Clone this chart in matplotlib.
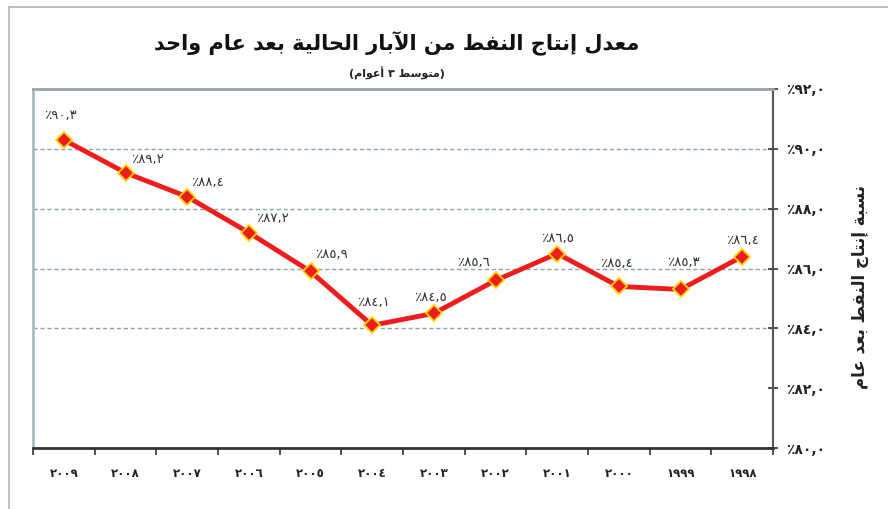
import matplotlib
matplotlib.use("Agg")
import matplotlib.pyplot as plt
from matplotlib.lines import Line2D

years = [2009, 2008, 2007, 2006, 2005, 2004, 2003, 2002, 2001, 2000, 1999, 1998]
values = [90.3, 89.2, 88.4, 87.2, 85.9, 84.1, 84.5, 85.6, 86.5, 85.4, 85.3, 86.4]
y_ticks = [80, 82, 84, 86, 88, 90, 92]

title = "معدل إنتاج النفط من الآبار الحالية بعد عام واحد"
subtitle = "(متوسط ٣ أعوام)"
y_label = "نسبة إنتاج النفط بعد عام"

# label offsets in pixels (dx, dy) for each point
label_offsets = [(-3, 24), (22, 13), (20, 14), (24, 14), (21, 17), (1, 23),
                 (-3, 16), (-22, 18), (0, 15), (-2, 23), (3, 27), (0, 16)]

# minimal arabic shaping (matplotlib has no bidi / joining)
FORMS = {
    '\u0627': (0xFE8D, 0xFE8E, None, None),
    '\u0623': (0xFE83, 0xFE84, None, None),
    '\u0625': (0xFE87, 0xFE88, None, None),
    '\u0622': (0xFE81, 0xFE82, None, None),
    '\u0628': (0xFE8F, 0xFE90, 0xFE91, 0xFE92),
    '\u0629': (0xFE93, 0xFE94, None, None),
    '\u062A': (0xFE95, 0xFE96, 0xFE97, 0xFE98),
    '\u062C': (0xFE9D, 0xFE9E, 0xFE9F, 0xFEA0),
    '\u062D': (0xFEA1, 0xFEA2, 0xFEA3, 0xFEA4),
    '\u062F': (0xFEA9, 0xFEAA, None, None),
    '\u0631': (0xFEAD, 0xFEAE, None, None),
    '\u0633': (0xFEB1, 0xFEB2, 0xFEB3, 0xFEB4),
    '\u0637': (0xFEC1, 0xFEC2, 0xFEC3, 0xFEC4),
    '\u0639': (0xFEC9, 0xFECA, 0xFECB, 0xFECC),
    '\u0641': (0xFED1, 0xFED2, 0xFED3, 0xFED4),
    '\u0644': (0xFEDD, 0xFEDE, 0xFEDF, 0xFEE0),
    '\u0645': (0xFEE1, 0xFEE2, 0xFEE3, 0xFEE4),
    '\u0646': (0xFEE5, 0xFEE6, 0xFEE7, 0xFEE8),
    '\u0647': (0xFEE9, 0xFEEA, 0xFEEB, 0xFEEC),
    '\u0648': (0xFEED, 0xFEEE, None, None),
    '\u064A': (0xFEF1, 0xFEF2, 0xFEF3, 0xFEF4),
}
LAM_ALEF = {'\u0622': (0xFEF5, 0xFEF6), '\u0623': (0xFEF7, 0xFEF8),
            '\u0625': (0xFEF9, 0xFEFA), '\u0627': (0xFEFB, 0xFEFC)}


def shape(text):
    tokens = []
    i = 0
    while i < len(text):
        c = text[i]
        if c == '\u0644' and i + 1 < len(text) and text[i + 1] in LAM_ALEF:
            iso, fin = LAM_ALEF[text[i + 1]]
            tokens.append((c, (iso, fin, None, None)))
            i += 2
        else:
            tokens.append((c, FORMS.get(c)))
            i += 1
    out = []
    for k, (c, f) in enumerate(tokens):
        if f is None:
            out.append(c)
            continue
        prev = tokens[k - 1][1] if k > 0 else None
        nxt = tokens[k + 1][1] if k + 1 < len(tokens) else None
        jp = prev is not None and prev[2] is not None
        jn = f[2] is not None and nxt is not None
        if jp and jn:
            g = f[3]
        elif jp:
            g = f[1]
        elif jn:
            g = f[2]
        else:
            g = f[0]
        out.append(chr(g))
    return ''.join(out)[::-1].translate(str.maketrans('()', ')('))


AR_DIGITS = str.maketrans('0123456789', '٠١٢٣٤٥٦٧٨٩')


def pct(v):
    return '٪' + f'{v:.1f}'.replace('.', ',').translate(AR_DIGITS)


plt.rcParams['font.family'] = ['DejaVu Sans']

fig = plt.figure(figsize=(8.88, 5.09), dpi=100)
ax = fig.add_axes([33 / 888, 1 - 448 / 509, (773 - 33) / 888, (448 - 89) / 509])

x = list(range(len(years)))
ax.plot(x, values, color='#ee1c1c', linewidth=3.5, marker='D', markersize=8.5,
        markerfacecolor='#ee1c1c', markeredgecolor='#ffd400', markeredgewidth=1.3,
        zorder=3)

for xi, v, (dx, dy) in zip(x, values, label_offsets):
    ax.annotate(pct(v), (xi, v), xytext=(dx, dy), textcoords='offset pixels',
                ha='center', va='center', fontsize=9.5, color='#333333')

ax.set_xlim(-0.5, len(years) - 0.5)
ax.set_ylim(80, 92)

for t in y_ticks[2:-1]:
    ax.axhline(t, color='#8fa3ab', linewidth=1, linestyle=(0, (3, 2)), zorder=1)

ax.yaxis.tick_right()
ax.set_yticks(y_ticks)
ax.set_yticklabels([pct(t) for t in y_ticks], fontsize=10, fontweight='bold', color='#222222')
ax.tick_params(axis='y', direction='inout', length=7, width=1.2, color='#333333', pad=6)

ax.set_xticks(x)
ax.set_xticklabels([str(y).translate(AR_DIGITS) for y in years], fontsize=8.5,
                   fontweight='bold', color='#222222')
ax.set_xticks([i - 0.5 for i in range(len(years) + 1)], minor=True)
ax.tick_params(axis='x', which='major', length=0, pad=14)
ax.tick_params(axis='x', which='minor', direction='out', length=5, width=1.2, color='#333333')

ax.spines['left'].set_color('#a9bcc4')
ax.spines['left'].set_linewidth(2)
ax.spines['top'].set_color('#97a5aa')
ax.spines['top'].set_linewidth(2)
ax.spines['right'].set_color('#555555')
ax.spines['right'].set_linewidth(1.5)
ax.spines['bottom'].set_color('#333333')
ax.spines['bottom'].set_linewidth(2)

fig.text(397 / 888, 1 - 44 / 509, shape(title), ha='center', va='center',
         fontsize=15, fontweight='bold', color='#111111')
fig.text(397 / 888, 1 - 73 / 509, shape(subtitle), ha='center', va='center',
         fontsize=8, fontweight='bold', color='#222222')
fig.text(860 / 888, 1 - 287 / 509, shape(y_label), ha='center', va='center',
         rotation=90, fontsize=12, fontweight='bold', color='#222222')

# outer frame
fig.add_artist(Line2D([9 / 888, 9 / 888], [0, 1 - 7 / 509], transform=fig.transFigure,
                      color='#b5b5b5', linewidth=1.2))
fig.add_artist(Line2D([9 / 888, 1], [1 - 7 / 509, 1 - 7 / 509], transform=fig.transFigure,
                      color='#b5b5b5', linewidth=1.2))

fig.savefig('out.png', dpi=100)
